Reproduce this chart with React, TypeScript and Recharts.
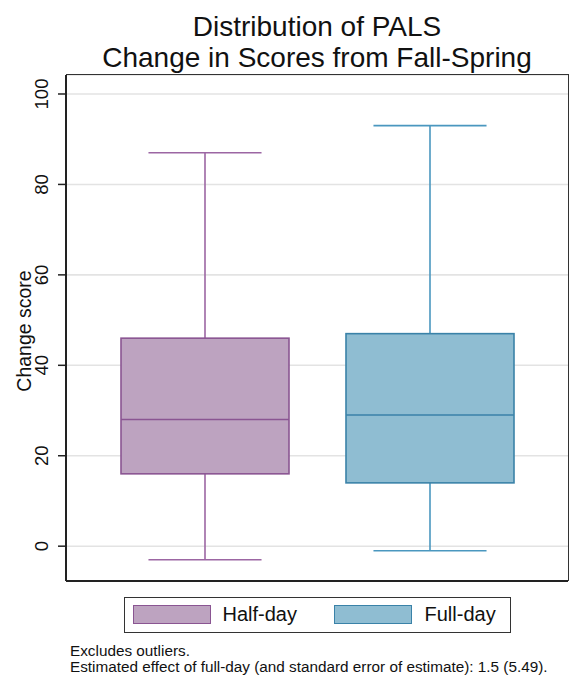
import React from "react";
import { Bar, CartesianGrid, ComposedChart, XAxis, YAxis } from "recharts";

const categories = ["Half-day", "Full-day"];
const mins = [-3, -1];
const q1s = [16, 14];
const medians = [28, 29];
const q3s = [46, 47];
const maxs = [87, 93];
const yTicks = [0, 20, 40, 60, 80, 100];

const fills = ["#bda3c0", "#8fbdd2"];
const strokes = ["#8a5592", "#3a82a8"];
const whiskerColors = ["#9c66a3", "#4a97bf"];

const FONT = "'Liberation Sans', Arial, Helvetica, sans-serif";

const data = categories.map((name, i) => ({
  name,
  range: [mins[i], maxs[i]],
  min: mins[i],
  q1: q1s[i],
  median: medians[i],
  q3: q3s[i],
  max: maxs[i],
}));

// box + whiskers, scaled off the [min, max] range bar that recharts lays out
const BoxShape = (props: any) => {
  const { x, y, width, height, payload, index } = props;
  const k = height / (payload.max - payload.min);
  const yOf = (v: number) => y + (payload.max - v) * k;
  const cx = x + width / 2;
  const half = (width * 0.673) / 2;
  const wc = whiskerColors[index];
  return (
    <g>
      <line x1={cx} x2={cx} y1={yOf(payload.max)} y2={yOf(payload.q3)} stroke={wc} strokeWidth={1.6} />
      <line x1={cx} x2={cx} y1={yOf(payload.q1)} y2={yOf(payload.min)} stroke={wc} strokeWidth={1.6} />
      <line x1={cx - half} x2={cx + half} y1={yOf(payload.max)} y2={yOf(payload.max)} stroke={wc} strokeWidth={1.6} />
      <line x1={cx - half} x2={cx + half} y1={yOf(payload.min)} y2={yOf(payload.min)} stroke={wc} strokeWidth={1.6} />
      <rect
        x={x}
        y={yOf(payload.q3)}
        width={width}
        height={yOf(payload.q1) - yOf(payload.q3)}
        fill={fills[index]}
        stroke={strokes[index]}
        strokeWidth={1.6}
      />
      <line x1={x} x2={x + width} y1={yOf(payload.median)} y2={yOf(payload.median)} stroke={strokes[index]} strokeWidth={1.6} />
    </g>
  );
};

const YTick = ({ x, y, payload }: any) => (
  <text
    x={x - 8}
    y={y}
    transform={`rotate(-90 ${x - 8} ${y})`}
    textAnchor="middle"
    fontSize={18.5}
    fontFamily={FONT}
    fill="#111"
  >
    {payload.value}
  </text>
);

const YLabel = ({ viewBox }: any) => {
  const cy = viewBox.y + viewBox.height / 2 + 3;
  return (
    <text
      x={31}
      y={cy}
      transform={`rotate(-90 31 ${cy})`}
      textAnchor="middle"
      fontSize={19.5}
      fontFamily={FONT}
      fill="#111"
    >
      Change score
    </text>
  );
};

const LegendBox = () => (
  <div
    style={{
      position: "absolute",
      left: 124,
      top: 597,
      width: 387,
      height: 36,
      boxSizing: "border-box",
      border: "1.5px solid #333",
      fontFamily: FONT,
      fontSize: 20,
      color: "#111",
    }}
  >
    {categories.map((c, i) => (
      <React.Fragment key={c}>
        <div
          style={{
            position: "absolute",
            left: i === 0 ? 7.5 : 208.5,
            top: 6.5,
            width: 78,
            height: 19,
            boxSizing: "border-box",
            background: fills[i],
            border: `1.5px solid ${strokes[i]}`,
          }}
        />
        <div
          style={{
            position: "absolute",
            left: i === 0 ? 97.5 : 299.5,
            top: 5,
            lineHeight: "22px",
          }}
        >
          {c}
        </div>
      </React.Fragment>
    ))}
  </div>
);

export default function App() {
  return (
    <div style={{ position: "absolute", left: 0, top: 0, width: 569, height: 677, background: "#fff" }}>
      <div
        style={{
          position: "absolute",
          left: 66,
          width: 502,
          top: 10.5,
          textAlign: "center",
          fontFamily: FONT,
          fontSize: 28,
          lineHeight: "31px",
          color: "#111",
          zIndex: 2,
        }}
      >
        Distribution of PALS
        <br />
        Change in Scores from Fall-Spring
      </div>
      <ComposedChart
        width={569}
        height={677}
        data={data}
        margin={{ top: 75, right: 1, bottom: 95, left: 0 }}
      >
        <CartesianGrid horizontal vertical={false} stroke="#e3e3e3" strokeWidth={1.6} />
        <XAxis
          dataKey="name"
          padding={{ left: 26, right: 26 }}
          tick={false}
          tickLine={false}
          height={1}
          axisLine={{ stroke: "#222", strokeWidth: 2 }}
        />
        <YAxis
          type="number"
          domain={[-7.7, 104.2]}
          allowDataOverflow
          ticks={yTicks}
          interval={0}
          width={66}
          tickSize={8}
          tick={<YTick />}
          tickLine={{ stroke: "#222", strokeWidth: 1.5 }}
          axisLine={{ stroke: "#222", strokeWidth: 2 }}
          label={<YLabel />}
        />
        <Bar dataKey="range" barSize={168} shape={<BoxShape />} isAnimationActive={false} />
      </ComposedChart>
      {/* top and right edges of the plot frame */}
      <div
        style={{
          position: "absolute",
          left: 66,
          top: 74.25,
          width: 502.75,
          height: 507,
          boxSizing: "border-box",
          borderTop: "1.5px solid #333",
          borderRight: "1.5px solid #333",
          pointerEvents: "none",
        }}
      />
      <LegendBox />
      <div
        style={{
          position: "absolute",
          left: 70,
          top: 643,
          fontFamily: FONT,
          fontSize: 15.3,
          lineHeight: "16px",
          color: "#111",
          whiteSpace: "nowrap",
        }}
      >
        Excludes outliers.
        <br />
        Estimated effect of full-day (and standard error of estimate): 1.5 (5.49).
      </div>
    </div>
  );
}
